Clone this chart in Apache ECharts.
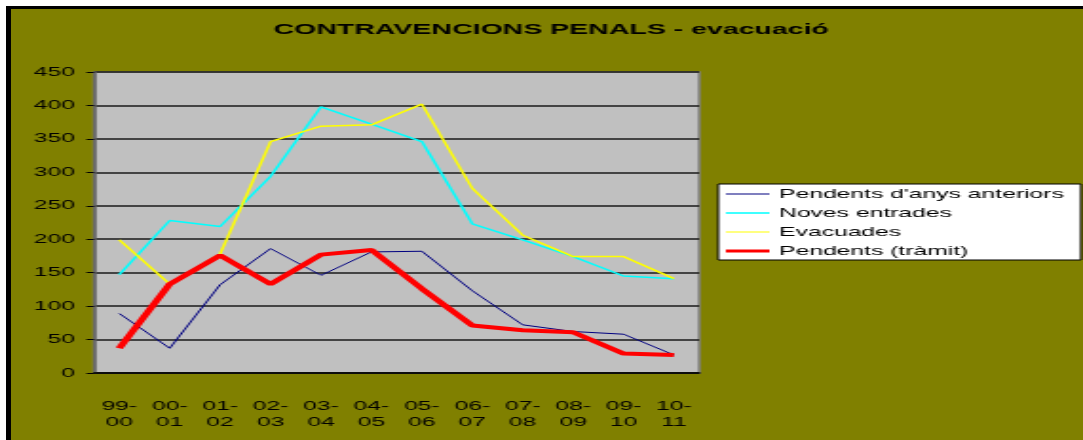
<!DOCTYPE html>
<html>
<head>
<meta charset="utf-8">
<script src="https://cdn.jsdelivr.net/npm/echarts@6/dist/echarts.min.js"></script>
<style>
  html, body { margin: 0; padding: 0; background: #fff; overflow: hidden; }
  #frame {
    position: absolute; left: 6px; top: 6px; right: 0; bottom: 0;
    background: #808000; border-top: 3px solid #000; border-left: 5px solid #000;
  }
  /* the original picture is stretched sideways, so the chart is drawn narrow and widened */
  #chart {
    position: absolute; left: 0; top: 0; width: 570px; height: 440px;
    transform: scaleX(1.9); transform-origin: 0 0;
  }
</style>
</head>
<body>
<div id="frame"></div>
<div id="chart"></div>
<script>
var seasons = ['99-00', '00-01', '01-02', '02-03', '03-04', '04-05', '05-06', '06-07', '07-08', '08-09', '09-10', '10-11']

var pendentsAnteriors = [89, 37, 132, 186, 146, 181, 182, 123, 72, 62, 58, 27]
var novesEntrades = [147, 228, 219, 294, 398, 372, 346, 223, 199, 174, 145, 141]
var evacuades = [199, 133, 178, 346, 369, 371, 402, 276, 206, 174, 174, 141]
var pendentsTramit = [37, 133, 176, 133, 177, 184, 126, 71, 64, 61, 29, 27]

var font = '"Liberation Sans", Arial, sans-serif'

// legend sample: a plain stroke across the 23x14 box (tiny corner dots keep the box size)
function lineIcon(h) {
    var y0 = 7 - h / 2, y1 = 7 + h / 2
    return 'path://M0,0L0.01,0L0.01,0.01Z' +
        'M0,' + y0 + 'L23,' + y0 + 'L23,' + y1 + 'L0,' + y1 + 'Z' +
        'M22.99,13.99L23,13.99L23,14Z'
}

var myChart = echarts.init(document.getElementById('chart'))

myChart.setOption({
    title: {
        text: 'CONTRAVENCIONS PENALS - evacuació',
        left: 139,
        top: 17,
        textStyle: { fontFamily: font, fontSize: 15, fontWeight: 'bold', color: '#000' }
    },
    legend: {
        orient: 'vertical',
        left: 378,
        top: 184,
        padding: [3, 9, 2, 4],
        itemWidth: 23,
        itemHeight: 14,
        itemGap: 5,
        backgroundColor: '#fff',
        borderColor: '#000',
        borderWidth: 1,
        borderRadius: 0,
        data: [
            { name: 'Pendents d\'anys anteriors', icon: lineIcon(1) },
            { name: 'Noves entrades', icon: lineIcon(1.6) },
            { name: 'Evacuades', icon: lineIcon(1.2) },
            { name: 'Pendents (tràmit)', icon: lineIcon(3.2) }
        ],
        textStyle: { fontFamily: font, fontSize: 13, color: '#000', lineHeight: 14 }
    },
    grid: {
        left: 49.5,
        right: 202,
        top: 72,
        bottom: 67,
        show: true,
        backgroundColor: '#c0c0c0',
        borderColor: '#808080',
        borderWidth: 1.5
    },
    xAxis: {
        type: 'category',
        data: seasons,
        boundaryGap: true,
        axisLine: { lineStyle: { color: '#000', width: 1.5 } },
        axisTick: { length: 4, lineStyle: { color: '#000' } },
        axisLabel: {
            margin: 25,
            color: '#000',
            fontFamily: font,
            fontSize: 13,
            lineHeight: 16,
            formatter: function (v) { return v.replace('-', '-\n') }
        }
    },
    yAxis: {
        type: 'value',
        min: 0,
        max: 450,
        interval: 50,
        axisLine: { show: true, lineStyle: { color: '#606060', width: 1.5 } },
        axisTick: { show: true, length: 4, lineStyle: { color: '#000' } },
        axisLabel: { margin: 10, color: '#000', fontFamily: font, fontSize: 13 },
        splitLine: { lineStyle: { color: '#1a1a1a', width: 1.5 } }
    },
    series: [
        {
            name: 'Pendents d\'anys anteriors',
            type: 'line',
            data: pendentsAnteriors,
            symbol: 'none',
            color: '#000080',
            lineStyle: { width: 1 }
        },
        {
            name: 'Noves entrades',
            type: 'line',
            data: novesEntrades,
            symbol: 'none',
            color: '#00ffff',
            lineStyle: { width: 1.5 }
        },
        {
            name: 'Evacuades',
            type: 'line',
            data: evacuades,
            symbol: 'none',
            color: '#ffff00',
            lineStyle: { width: 1.5 }
        },
        {
            name: 'Pendents (tràmit)',
            type: 'line',
            data: pendentsTramit,
            symbol: 'none',
            color: '#ff0000',
            lineStyle: { width: 4 }
        }
    ]
})
</script>
</body>
</html>
